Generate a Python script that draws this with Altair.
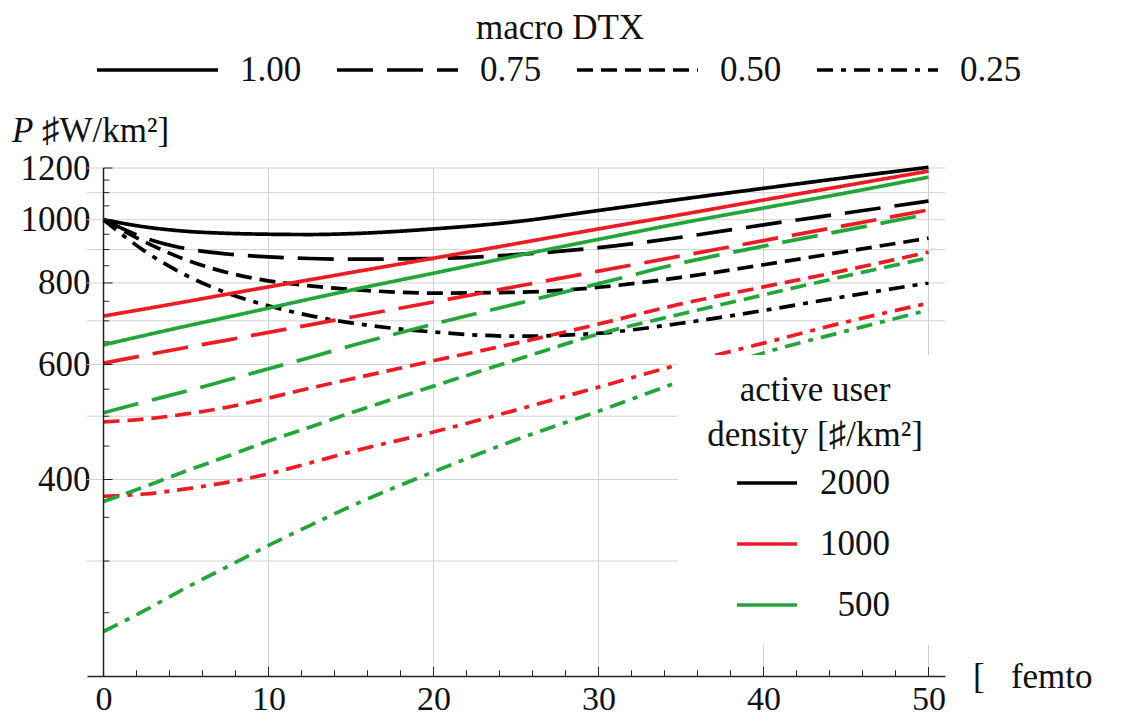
import altair as alt
import pandas as pd

# ---------------- data ----------------
femto_x = [0, 2.5, 5, 7.5, 10, 12.5, 15, 20, 25, 30, 35, 40, 45, 50]
densities = ["2000", "1000", "500"]
dtx_levels = ["1.00", "0.75", "0.50", "0.25"]

p_2000_100 = [1000, 975, 960, 953, 950, 949, 952, 968, 993, 1033, 1075, 1117, 1160, 1203]
p_2000_075 = [1000, 938, 903, 886, 877, 872, 870, 872, 884, 906, 940, 982, 1024, 1068]
p_2000_050 = [1000, 925, 868, 830, 806, 792, 782, 772, 774, 788, 816, 853, 894, 937]
p_2000_025 = [1000, 895, 822, 772, 738, 713, 695, 673, 663, 670, 694, 726, 763, 800]
p_1000_100 = [712, 730, 749, 769, 789, 809, 830, 873, 919, 968, 1018, 1072, 1128, 1187]
p_1000_075 = [603, 620, 637, 654, 672, 690, 709, 748, 790, 834, 880, 929, 980, 1035]
p_1000_050 = [490, 495, 504, 516, 533, 552, 570, 608, 647, 692, 743, 789, 837, 892]
p_1000_025 = [377, 380, 387, 396, 408, 424, 441, 473, 511, 554, 601, 647, 697, 745]
p_500_100 = [643, 665, 687, 709, 732, 756, 780, 828, 880, 933, 988, 1042, 1099, 1162]
p_500_075 = [506, 526, 546, 568, 591, 615, 641, 692, 743, 798, 858, 911, 964, 1020]
p_500_050 = [370, 390, 412, 434, 458, 481, 506, 556, 610, 668, 717, 767, 820, 874]
p_500_025 = [234, 252, 273, 294, 317, 340, 364, 411, 460, 509, 566, 625, 675, 727]

series = {
    ("2000", "1.00"): p_2000_100, ("2000", "0.75"): p_2000_075,
    ("2000", "0.50"): p_2000_050, ("2000", "0.25"): p_2000_025,
    ("1000", "1.00"): p_1000_100, ("1000", "0.75"): p_1000_075,
    ("1000", "0.50"): p_1000_050, ("1000", "0.25"): p_1000_025,
    ("500", "1.00"): p_500_100, ("500", "0.75"): p_500_075,
    ("500", "0.50"): p_500_050, ("500", "0.25"): p_500_025,
}

x_tick_labels = [0, 10, 20, 30, 40, 50]
y_tick_labels = [400, 600, 800, 1000, 1200]
y_grid_values = [300, 400, 500, 600, 700, 800, 900, 1000, 1100, 1200]
y_minor_ticks = [250, 300, 350, 400, 450, 500, 550, 600, 650, 700, 750, 800,
                 850, 900, 950, 1000, 1050, 1100, 1150, 1200]
x_minor_ticks = list(range(2, 51, 2))

rows = []
for (d, t), vals in series.items():
    for x, v in zip(femto_x, vals):
        rows.append({"x": x, "p": v, "density": d, "dtx": t})
df = pd.DataFrame(rows)

# ---------------- style ----------------
FONT = "Liberation Serif"
FS = 35
COLORS = ["#000000", "#ec1c24", "#22a63a"]
DASHES = [[1, 0], [36, 14], [16, 8], [16, 8, 5, 8]]
LW = 3.7
GRID = "#d2d2d2"
AXC = "#222222"

PAD_L, PAD_T = 87, 168
VIEW_W, VIEW_H = 858, 508
PAD_R = 1121 - PAD_L - VIEW_W
PAD_B = 718 - PAD_T - VIEW_H


def px(x):
    return x - PAD_L


def py(y):
    return y - PAD_T


xs = alt.Scale(domain=[-1, 51], nice=False, zero=False)
ys = alt.Scale(type="log", domain=[200, 1200], nice=False)
X_AX = alt.Axis(values=x_tick_labels, grid=False, ticks=False, tickSize=0, title=None,
                domain=True, domainColor=AXC, domainWidth=1.5, format="d",
                labelFont=FONT, labelFontSize=34, labelColor="#111",
                labelPadding=6, labelFlush=False, labelOverlap=False)
Y_AX = alt.Axis(values=y_tick_labels, grid=False, ticks=False, tickSize=0, title=None,
                domain=False, labelFont=FONT, labelFontSize=FS, format="d",
                labelColor="#111", labelPadding=-3, labelFlush=False,
                labelOverlap=False)


def X(field):
    return alt.X(field, scale=xs, axis=X_AX, title=None)


def Y(field):
    return alt.Y(field, scale=ys, axis=Y_AX, title=None)


one = pd.DataFrame({"k": [0]})

# gridlines
hgrid = alt.Chart(pd.DataFrame({"g": y_grid_values})).mark_rule(
    color=GRID, strokeWidth=1).encode(y=Y("g:Q"))
vgrid = alt.Chart(pd.DataFrame({"g": x_tick_labels[1:]})).mark_rule(
    color=GRID, strokeWidth=1).encode(x=X("g:Q"))

# data lines
lines = alt.Chart(df).mark_line(strokeWidth=LW, interpolate="monotone").encode(
    x=X("x:Q"),
    y=Y("p:Q"),
    color=alt.Color("density:N", scale=alt.Scale(domain=densities, range=COLORS), legend=None),
    strokeDash=alt.StrokeDash("dtx:N", scale=alt.Scale(domain=dtx_levels, range=DASHES), legend=None),
)

# y axis line at x = 0 and inner ticks
yaxis = alt.Chart(pd.DataFrame({"x0": [0]})).mark_rule(color=AXC, strokeWidth=1.5).encode(
    x=X("x0:Q"))
ytick_df = pd.DataFrame({"v": y_minor_ticks, "a": 0.0,
                         "b": [0.55 if v in y_tick_labels else 0.35 for v in y_minor_ticks]})
yticks = alt.Chart(ytick_df).mark_rule(color=AXC, strokeWidth=1).encode(
    y=Y("v:Q"), x=X("a:Q"), x2="b:Q")
xtick_df = pd.DataFrame({"v": x_minor_ticks, "lo": 200.0,
                         "hi": [206.5 if v % 10 == 0 else 204.0 for v in x_minor_ticks]})
xticks = alt.Chart(xtick_df).mark_rule(color=AXC, strokeWidth=1).encode(
    x=X("v:Q"), y=Y("lo:Q"), y2="hi:Q")


def text(t, x, y, align="left", size=FS, style="normal"):
    return alt.Chart(one).mark_text(
        text=t, align=align, baseline="middle", font=FONT, fontSize=size,
        fontStyle=style, color="#111").encode(x=alt.value(px(x)), y=alt.value(py(y)))


def swatch(x0, x1, y, color, dash):
    return alt.Chart(one).mark_rule(color=color, strokeWidth=LW, strokeDash=dash).encode(
        x=alt.value(px(x0)), x2=alt.value(px(x1)), y=alt.value(py(y)))


layers = [hgrid, vgrid, lines, yaxis, yticks, xticks]

# legend box for density (white background hides lines under it)
layers.append(alt.Chart(one).mark_rect(fill="white").encode(
    x=alt.value(px(678)), x2=alt.value(px(955)), y=alt.value(py(355)), y2=alt.value(py(645))))

# top legend: macro DTX
layers.append(text("macro DTX", 560, 28, align="center"))
for i, lvl in enumerate(dtx_levels):
    x0 = 97 + 240 * i
    layers.append(swatch(x0, x0 + 121, 70, "#000000", DASHES[i]))
    layers.append(text(lvl, x0 + 143, 70))

# density legend
layers.append(text("active user", 815, 390, align="center"))
layers.append(text("density [\u266f/km\u00b2]", 815, 435, align="center"))
for i, d in enumerate(densities):
    y = 483 + 61 * i
    layers.append(swatch(737, 797, y, COLORS[i], [1, 0]))
    layers.append(text(d, 890, y, align="right"))

# axis titles
layers.append(text("P", 12, 131, style="italic"))
layers.append(text("\u266fW/km\u00b2]", 42, 131))
layers.append(text("[\u00a0\u00a0\u00a0femto", 973, 677))

chart = alt.layer(*layers).properties(
    width=VIEW_W, height=VIEW_H,
    padding={"left": PAD_L, "top": PAD_T, "right": PAD_R, "bottom": PAD_B},
    autosize=alt.AutoSizeParams(type="none"),
    background="white",
).configure_view(stroke=None)

chart.save("out.html", embed_options={"renderer": "svg", "actions": False})
